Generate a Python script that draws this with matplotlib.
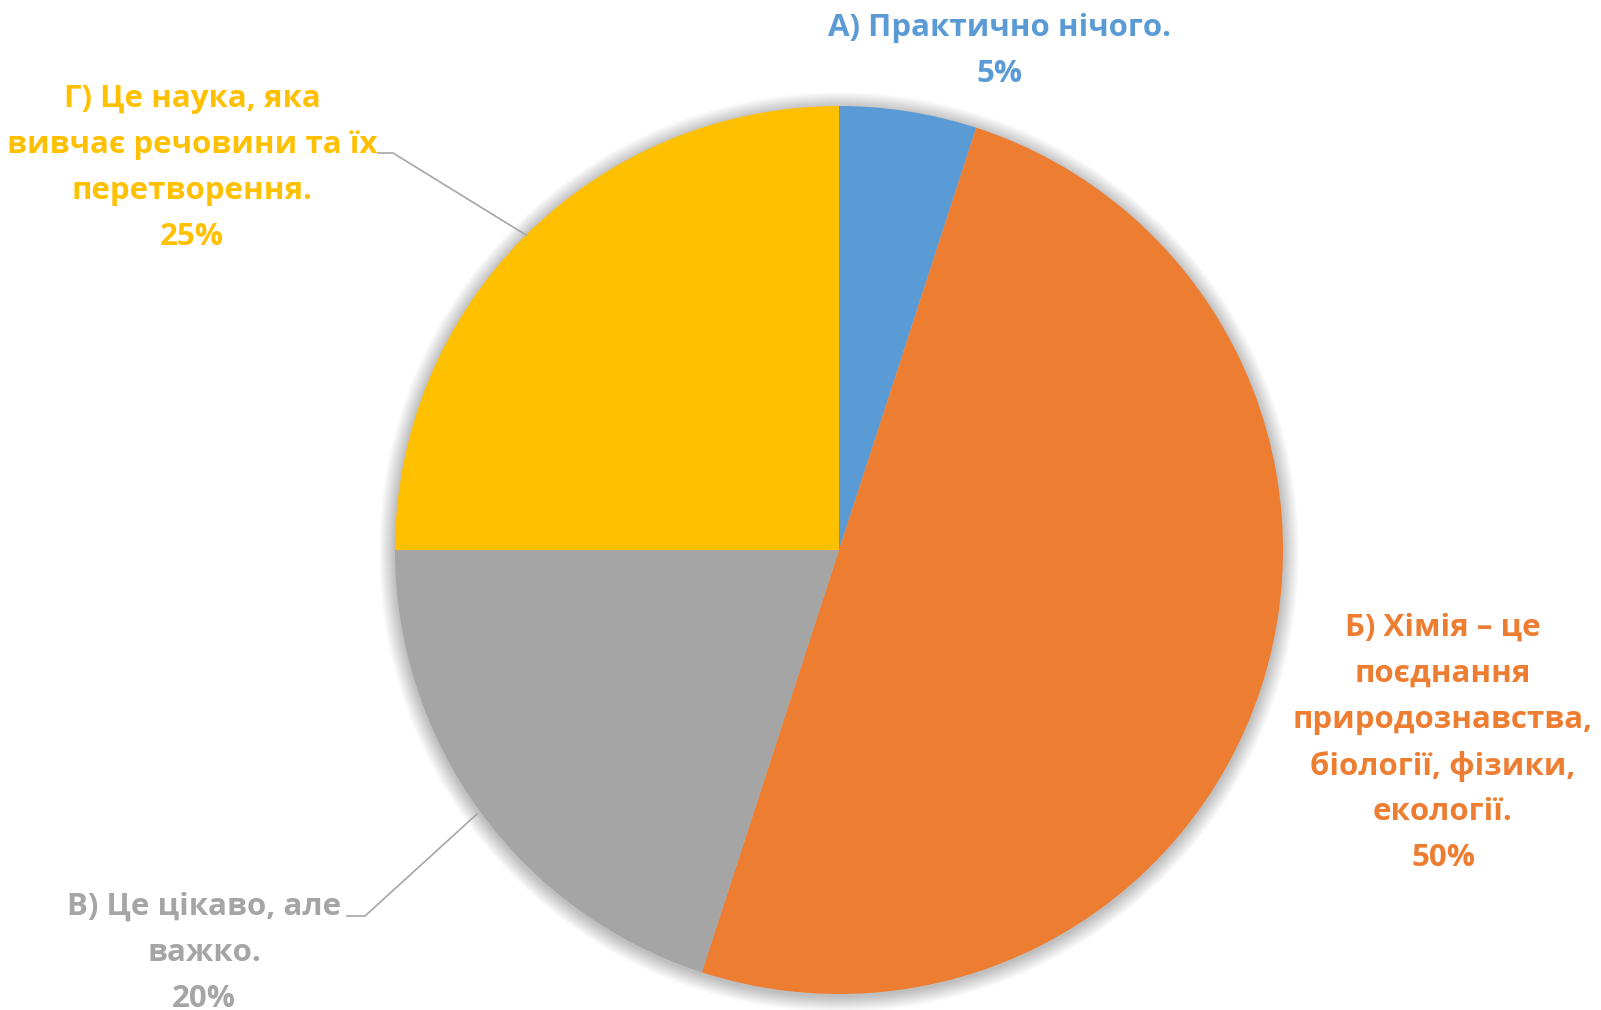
import numpy as np
import matplotlib.pyplot as plt
from matplotlib.patches import Circle

plt.rcParams['font.family'] = ['Open Sans', 'DejaVu Sans']

labels = ['А) Практично нічого.',
          'Б) Хімія – це\nпоєднання\nприродознавства,\nбіології, фізики,\nекології.',
          'В) Це цікаво, але\nважко.',
          'Г) Це наука, яка\nвивчає речовини та їх\nперетворення.']
shares = [5, 50, 20, 25]
colors = ['#5B9BD5', '#ED7D31', '#A5A5A5', '#FFC000']

W, H = 1601, 1010
fig = plt.figure(figsize=(W / 100, H / 100), dpi=100)
ax = fig.add_axes([0, 0, 1, 1])

cx, cy, r = 839, H - 550, 444

# soft shadow around the pie
for k in range(16):
    ax.add_patch(Circle((cx, cy - 2), r + 16 - k, color='black',
                        alpha=0.014, lw=0, zorder=1))

wedges, _ = ax.pie(shares, colors=colors, startangle=90, counterclock=False,
                   center=(cx, cy), radius=r, frame=True,
                   wedgeprops=dict(linewidth=0))
for w in wedges:
    w.set_zorder(2)
ax.set_xlim(0, W)
ax.set_ylim(0, H)
ax.set_aspect('equal')
ax.axis('off')

# first-line position of each label (pixels from the top), 46 px per line
label_pos = [(1000, 28), (1443, 628), (204, 907), (192, 99)]
for lab, val, col, (lx, ly) in zip(labels, shares, colors, label_pos):
    lines = (lab + f'\n{val}%').split('\n')
    for i, line in enumerate(lines):
        ax.text(lx, H - (ly + 46 * i), line, color=col, fontsize=22.5,
                fontweight='bold', ha='center', va='center', zorder=5)

# leader lines for the two left labels
ax.plot([378, 393, 526], [H - 153, H - 153, H - 235], color='#A6A6A6', lw=1.2, zorder=4)
ax.plot([347, 365, 477], [H - 916, H - 916, H - 814], color='#A6A6A6', lw=1.2, zorder=4)

fig.savefig('out.png', dpi=100)
